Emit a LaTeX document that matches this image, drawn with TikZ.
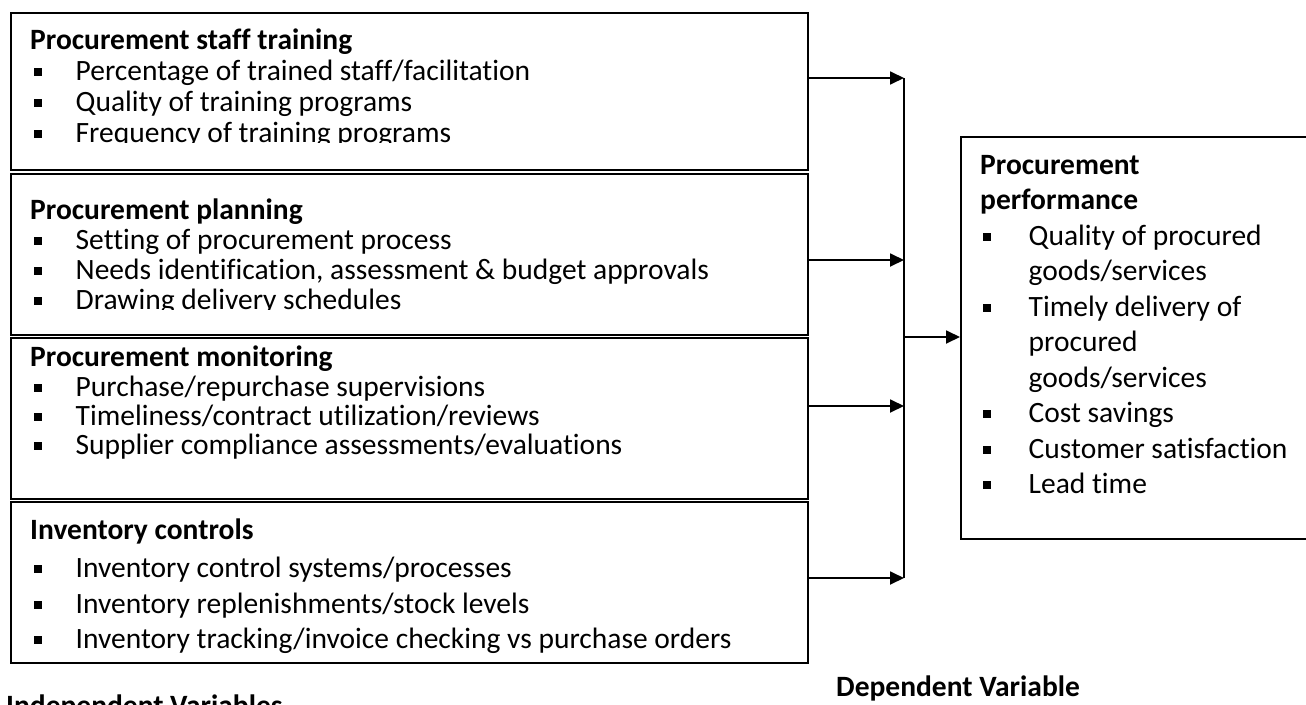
\documentclass[tikz,border=0pt]{standalone}
\usepackage{fontspec}
\setmainfont{Carlito}[Ligatures={NoCommon,NoContextual}]
\usetikzlibrary{arrows.meta}
% square list marker followed by the indent of the item text
\newcommand{\sqmark}[1]{\makebox[#1][l]{\rule[4.5pt]{8pt}{8pt}}}
\begin{document}
\begin{tikzpicture}[x=1pt,y=-1pt,
  frame/.style={draw, line width=1.8pt, rectangle, inner sep=0pt, anchor=north west},
  txt/.style={anchor=base west, inner sep=0pt, font=\fontsize{29.5}{35}\selectfont},
  head/.style={txt, font=\fontsize{29.5}{35}\selectfont\bfseries},
  feed/.style={line width=1.8pt, -{Triangle[length=14pt,width=13pt]}},
  bus/.style={line width=1.8pt}]
\useasboundingbox (0,0) rectangle (1306,704);
\clip (0,0) rectangle (1306,704);

% independent variable boxes
\node[frame, minimum width=797pt, minimum height=157pt] (b1) at (10,12) {};
\node[frame, minimum width=797pt, minimum height=161pt] (b2) at (10,173) {};
\node[frame, minimum width=797pt, minimum height=161pt] (b3) at (10,337) {};
\node[frame, minimum width=797pt, minimum height=161pt] (b4) at (10,501) {};

% dependent variable box (its right side runs past the page)
\node[frame, minimum width=400pt, minimum height=402pt] (perf) at (960,136) {};

% box texts; the last line of the first two boxes is cut by the text area
\begin{scope}
\clip (12,14) rectangle (805,142.5);
\node[head] (t1h) at (30,49) {Procurement staff training};
\node[txt] (t1a) at (34,80) {\sqmark{41.5pt}Percentage of trained staff/facilitation};
\node[txt] (t1b) at (34,111) {\sqmark{41.5pt}Quality of training programs};
\node[txt] (t1c) at (34,142) {\sqmark{41.5pt}Frequency of training programs};
\end{scope}

\begin{scope}
\clip (12,175) rectangle (805,309.5);
\node[head] (t2h) at (30,219) {Procurement planning};
\node[txt] (t2a) at (34,249) {\sqmark{41.5pt}Setting of procurement process};
\node[txt] (t2b) at (34,279) {\sqmark{41.5pt}Needs identification, assessment \& budget approvals};
\node[txt] (t2c) at (34,309) {\sqmark{41.5pt}Drawing delivery schedules};
\end{scope}

\node[head] (t3h) at (30,366) {Procurement monitoring};
\node[txt] (t3a) at (34,396) {\sqmark{41.5pt}Purchase/repurchase supervisions};
\node[txt] (t3b) at (34,425) {\sqmark{41.5pt}Timeliness/contract utilization/reviews};
\node[txt] (t3c) at (34,454) {\sqmark{41.5pt}Supplier compliance assessments/evaluations};

\node[head] (t4h) at (30,539) {Inventory controls};
\node[txt] (t4a) at (34,577) {\sqmark{41.5pt}Inventory control systems/processes};
\node[txt] (t4b) at (34,613) {\sqmark{41.5pt}Inventory replenishments/stock levels};
\node[txt] (t4c) at (34,648) {\sqmark{41.5pt}Inventory tracking/invoice checking vs purchase orders};

\node[head] (p1) at (980,174) {Procurement};
\node[head] (p2) at (980,209.5) {performance};
\node[txt] (p3) at (983,245) {\sqmark{45.5pt}Quality of procured};
\node[txt] (p4) at (1028.5,280.5) {goods/services};
\node[txt] (p5) at (983,316) {\sqmark{45.5pt}Timely delivery of};
\node[txt] (p6) at (1028.5,351.5) {procured};
\node[txt] (p7) at (1028.5,387) {goods/services};
\node[txt] (p8) at (983,422.5) {\sqmark{45.5pt}Cost savings};
\node[txt] (p9) at (983,458) {\sqmark{45.5pt}Customer satisfaction};
\node[txt] (p10) at (983,493.5) {\sqmark{45.5pt}Lead time};

% captions
\node[head] (ind) at (6,715) {Independent Variables};
\node[head] (dep) at (836,696) {Dependent Variable};

% joints on the collecting line
\coordinate (j1) at (904,78);
\coordinate (j2) at (904,260);
\coordinate (j3) at (904,406);
\coordinate (j4) at (904,578);
\coordinate (jm) at (904,337);

\draw[feed] (b1.east |- j1) -- (j1);
\draw[feed] (b2.east |- j2) -- (j2);
\draw[feed] (b3.east |- j3) -- (j3);
\draw[feed] (b4.east |- j4) -- (j4);
\draw[bus] (j1) -- (j4);
\draw[feed] (jm) -- (perf.west |- jm);
\end{tikzpicture}
\end{document}
